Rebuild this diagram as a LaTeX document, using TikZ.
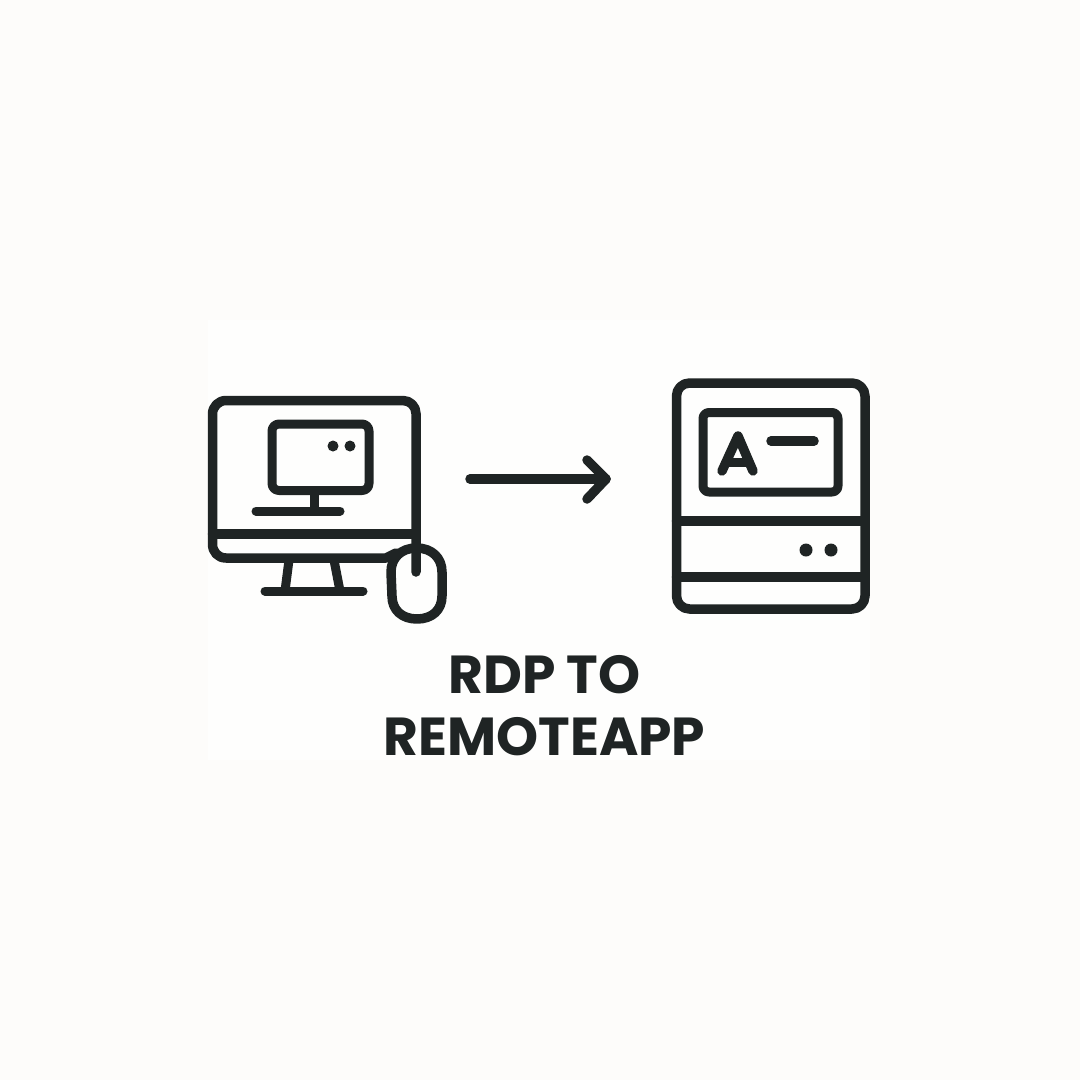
\documentclass[tikz,border=0pt]{standalone}
\usepackage{fontspec}
\setmainfont{Poppins}[BoldFont=Poppins Bold]
\definecolor{ink}{HTML}{1F2424}
\definecolor{paper}{HTML}{FDFCFA}
\definecolor{panel}{HTML}{FEFEFD}
\tikzset{
  icon/.style={draw=ink,line width=9.5pt,line cap=round,line join=round},
  thin icon/.style={icon,line width=9pt},
  dot/.style={fill=ink,draw=none},
  title/.style={text=ink,font=\bfseries\fontsize{53.5}{62.5}\selectfont,align=center,inner sep=0pt}
}
\begin{document}
\begin{tikzpicture}[x=1pt,y=-1pt]
\useasboundingbox (0,0) rectangle (1080,1080);
\fill[paper] (0,0) rectangle (1080,1080);
\fill[panel] (208,320) rectangle (870,760);
% monitor
\draw[icon] (416,572) -- (416,413.5) arc[start angle=0,end angle=-90,radius=13] -- (226,400.5) arc[start angle=270,end angle=180,radius=13.5] -- (212.5,544) .. controls (212.5,552) and (218,558) .. (226,558) -- (386,558) -- (396,553);
\draw[icon] (212.5,534) -- (416,534);
\draw[thin icon,rounded corners=7pt] (272,424) rectangle (369,490.5);
\fill[dot] (333,446) circle (5.5);
\fill[dot] (350,446) circle (5.5);
\draw[thin icon] (314,490.5) -- (314,511);
\draw[thin icon] (256,511) -- (340,511);
\draw[thin icon,line cap=butt] (289,560) -- (285,591);
\draw[thin icon,line cap=butt] (334,560) -- (340,591);
\draw[thin icon] (265,591) -- (363,591);
% mouse
\draw[icon,fill=none] (416.5,548) .. controls (432,548) and (442,558) .. (442,572) -- (442,596) .. controls (442,610) and (432,619) .. (417,619) .. controls (402,619) and (392,610) .. (392,596) -- (391,572) .. controls (391,558) and (401,548) .. (416.5,548) -- cycle;
% arrow
\coordinate (arrowtail) at (470,479);
\coordinate (arrowtip) at (606,479);
\coordinate (headup) at (587,460);
\coordinate (headdown) at (587,499);
\draw[icon] (arrowtail) -- (arrowtip);
\draw[icon] (headup) -- (arrowtip) -- (headdown);
% remote machine
\draw[icon,rounded corners=13pt] (676.5,383) rectangle (865,609);
\draw[icon] (676.5,521) -- (865,521);
\draw[icon] (676.5,577) -- (865,577);
\draw[thin icon,rounded corners=6pt] (703,412.5) rectangle (838,492);
\draw[icon] (771,441) -- (814,441);
\draw[icon] (722,471) -- (738,436) -- (753,471);
\draw[thin icon,line cap=butt] (729,462.5) -- (747,462.5);
\fill[dot] (806,550) circle (6.5);
\fill[dot] (831,550) circle (6.5);
% title
\node[title] (caption) at (544.5,705.5) {RDP TO\\REMOTEAPP};
\end{tikzpicture}
\end{document}
